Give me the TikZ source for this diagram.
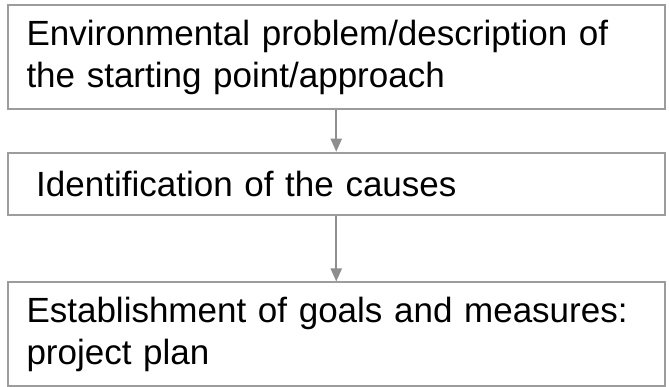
\documentclass[tikz,border=0pt]{standalone}
\usepackage{fontspec}
\setmainfont{Liberation Sans}
\usetikzlibrary{arrows.meta}
\definecolor{boxgray}{HTML}{9C9C9C}
\definecolor{arrgray}{HTML}{8E8E8E}
\begin{document}
\begin{tikzpicture}[x=1pt,y=-1pt,
  stepbox/.style={draw=boxgray, line width=2pt, fill=white, rectangle,
    minimum width=657.5pt, text width=619.5pt, inner xsep=19pt, inner ysep=0pt,
    align=left, font=\fontsize{35}{41.5}\selectfont},
  flow/.style={draw=arrgray, line width=2pt, -{Triangle[width=11pt,length=13pt]}}]
\useasboundingbox (0,0) rectangle (669,387);
\fill[white] (0,0) rectangle (669,387);
\node[stepbox, minimum height=104.5pt] (b1) at (336.25,57.25)
  {Environmental problem/description of\\the starting point/approach};
\node[stepbox, minimum height=62.3pt] (b2) at (336.25,183.85)
  {\hspace{0.278em}Identification of the causes};
\node[stepbox, minimum height=103.5pt] (b3) at (336.25,334.25)
  {Establishment of goals and measures:\\project plan};
\draw[flow] (b1.south) -- (b2.north);
\draw[flow] (b2.south) -- (b3.north);
\end{tikzpicture}
\end{document}
